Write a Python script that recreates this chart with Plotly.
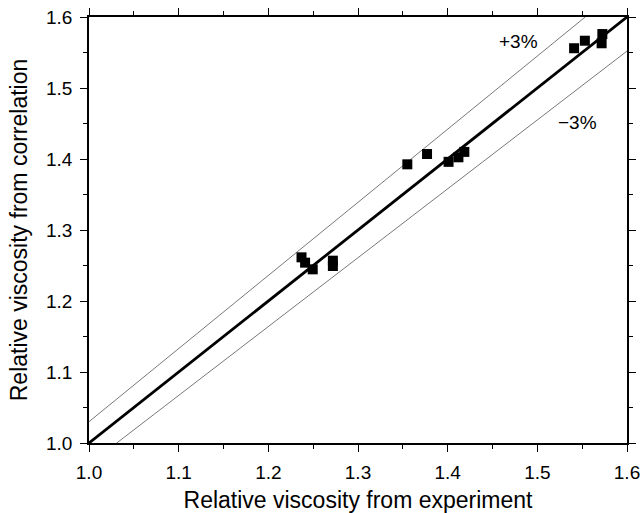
import plotly.graph_objects as go

# Data
exp_x = [1.237, 1.241, 1.2495, 1.272, 1.272,
         1.355, 1.377, 1.401, 1.412, 1.4186,
         1.541, 1.553, 1.5725, 1.5717]
corr_y = [1.2615, 1.254, 1.2446, 1.2568, 1.2493,
          1.3925, 1.407, 1.396, 1.4024, 1.410,
          1.556, 1.5666, 1.576, 1.563]

line_x = [1.0, 1.6]
ideal = [1.0, 1.6]
plus3_x = [1.0, 1.6 / 1.03]
plus3_y = [1.03, 1.6]
minus3_x = [1.0 / 0.97, 1.6]
minus3_y = [1.0, 1.6 * 0.97]

font_family = "Liberation Sans, Arial, Helvetica, sans-serif"

fig = go.Figure()
fig.add_trace(go.Scatter(x=plus3_x, y=plus3_y, mode="lines",
                         line=dict(color="#555555", width=0.8), showlegend=False))
fig.add_trace(go.Scatter(x=minus3_x, y=minus3_y, mode="lines",
                         line=dict(color="#555555", width=0.8), showlegend=False))
fig.add_trace(go.Scatter(x=line_x, y=ideal, mode="lines",
                         line=dict(color="black", width=2.8), showlegend=False))
fig.add_trace(go.Scatter(x=exp_x, y=corr_y, mode="markers",
                         marker=dict(symbol="square", size=10, color="black"),
                         showlegend=False))

axis_common = dict(
    showgrid=False, zeroline=False, showline=True, linecolor="black", linewidth=1.6,
    mirror="ticks", ticks="outside", ticklen=7, tickwidth=1.4, tickcolor="black",
    dtick=0.1, tickformat=".1f", ticklabelstandoff=4,
    minor=dict(dtick=0.05, ticks="outside", ticklen=4, tickwidth=1.3, tickcolor="black"),
    tickfont=dict(family=font_family, size=19, color="black"),
)

fig.update_xaxes(range=[1.0, 1.6], tick0=1.0,
                 title=dict(text="Relative viscosity from experiment",
                            font=dict(family=font_family, size=23, color="black"),
                            standoff=13),
                 **axis_common)
fig.update_yaxes(range=[1.0, 1.6], tick0=1.0,
                 title=dict(text="Relative viscosity from correlation",
                            font=dict(family=font_family, size=23, color="black"),
                            standoff=12),
                 **axis_common)

fig.add_annotation(x=1.479, y=1.5655, text="+3%", showarrow=False,
                   font=dict(family=font_family, size=19, color="black"))
fig.add_annotation(x=1.5453, y=1.4514, text="\u22123%", showarrow=False,
                   font=dict(family=font_family, size=19, color="black"))

fig.update_layout(
    width=644, height=513,
    margin=dict(l=89, r=17, t=17, b=70, autoexpand=False),
    paper_bgcolor="white", plot_bgcolor="white",
)

fig.write_html("out.html", config={"displayModeBar": False},
               post_script="document.body.style.margin='0';document.body.style.overflow='hidden';")
